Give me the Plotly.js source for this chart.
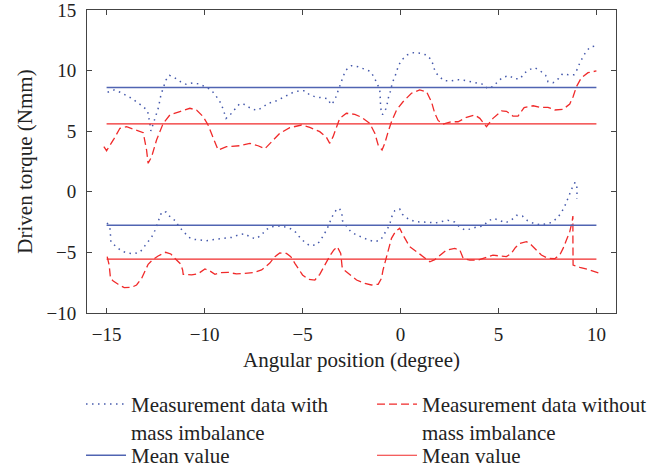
<!DOCTYPE html>
<html><head><meta charset="utf-8">
<script src="https://cdn.plot.ly/plotly-3.0.1.min.js"></script>
<style>html,body{margin:0;padding:0;background:#fff}#chart{width:671px;height:470px}</style>
</head><body><div id="chart"></div>
<script>
// Measurement data with mass imbalance (blue dotted), upper branch
const withUpperX = [-14.95,-14.61,-14.31,-14.02,-13.72,-13.44,-13.15,-12.91,-12.84,-12.79,-12.74,-12.57,-12.43,-12.33,-12.28,-12.19,-12.08,-11.97,-11.79,-11.52,-11.22,-10.94,-10.60,-10.26,-9.97,-9.66,-9.44,-9.23,-9.08,-8.90,-8.66,-8.45,-8.21,-7.91,-7.64,-7.32,-7.04,-6.76,-6.45,-6.14,-5.84,-5.51,-5.20,-4.88,-4.63,-4.32,-3.98,-3.69,-3.56,-3.37,-3.25,-3.15,-3.03,-2.91,-2.78,-2.50,-2.16,-1.84,-1.55,-1.36,-1.21,-1.06,-1.04,-1.04,-1.01,-0.92,-0.75,-0.66,-0.60,-0.49,-0.43,-0.29,-0.19,-0.09,0.10,0.36,0.68,1.00,1.33,1.55,1.68,1.77,1.99,2.22,2.57,2.91,3.24,3.59,3.89,4.23,4.45,4.78,4.98,5.26,5.56,5.80,6.12,6.28,6.56,6.85,7.14,7.41,7.53,7.79,8.06,8.27,8.57,8.86,9.03,9.15,9.32,9.49,9.71,10.03];
const withUpperY = [8.21,8.40,8.21,7.99,7.71,7.38,7.05,6.69,6.20,5.65,5.02,5.98,6.56,7.08,7.63,8.18,8.71,9.22,9.61,9.41,9.08,8.87,8.98,8.89,8.67,8.40,7.96,7.49,6.94,6.06,6.42,6.83,7.27,7.19,6.86,6.72,6.97,7.30,7.42,7.66,7.93,8.18,8.32,8.34,7.99,7.82,7.76,7.66,7.19,7.49,8.04,8.51,9.06,9.58,10.05,10.40,10.32,10.13,9.94,9.50,8.98,8.46,7.99,7.43,6.89,6.36,6.83,7.38,7.90,8.40,8.95,9.47,9.97,10.46,10.93,11.31,11.48,11.43,11.29,10.93,10.44,9.88,9.50,9.17,9.14,9.25,9.20,9.08,8.95,8.87,8.51,8.73,9.14,9.47,9.58,9.33,9.33,9.74,10.07,10.24,9.97,9.61,9.08,9.00,9.33,9.74,9.66,9.66,10.13,10.63,11.15,11.62,11.97,12.05];
// Measurement data with mass imbalance, lower branch
const withLowerX = [-14.97,-14.83,-14.80,-14.78,-14.53,-14.26,-13.95,-13.61,-13.29,-13.10,-12.91,-12.70,-12.54,-12.43,-12.33,-12.19,-11.96,-11.72,-11.46,-11.31,-11.07,-10.84,-10.56,-10.24,-9.90,-9.58,-9.26,-8.91,-8.59,-8.25,-7.94,-7.65,-7.37,-7.09,-6.87,-6.58,-6.24,-5.94,-5.61,-5.36,-5.14,-4.90,-4.63,-4.27,-4.07,-3.90,-3.74,-3.61,-3.47,-3.28,-3.11,-2.99,-2.96,-2.76,-2.54,-2.24,-1.94,-1.63,-1.31,-1.01,-0.84,-0.66,-0.53,-0.43,-0.29,-0.04,0.10,0.42,0.77,1.10,1.45,1.79,2.09,2.41,2.76,2.99,3.28,3.59,3.89,4.23,4.47,4.76,5.07,5.37,5.68,5.92,6.22,6.48,6.79,7.11,7.45,7.73,8.01,8.21,8.38,8.50,8.64,8.76,8.91,9.00,9.01,9.00];
const withLowerY = [-2.56,-3.05,-3.59,-4.14,-4.50,-4.86,-5.05,-5.11,-4.97,-4.55,-4.17,-3.73,-3.21,-2.68,-2.22,-1.67,-1.67,-2.14,-2.41,-2.90,-3.26,-3.73,-3.92,-4.00,-4.03,-3.95,-3.87,-3.84,-3.76,-3.54,-3.46,-3.76,-3.87,-3.56,-3.13,-2.88,-2.82,-2.88,-3.05,-3.32,-3.76,-4.14,-4.45,-4.37,-3.98,-3.51,-3.05,-2.52,-2.00,-1.50,-1.36,-1.83,-2.38,-2.82,-3.29,-3.56,-3.78,-3.98,-4.11,-3.98,-3.51,-3.05,-2.56,-2.00,-1.56,-1.42,-1.86,-2.27,-2.47,-2.47,-2.52,-2.57,-2.49,-2.35,-2.49,-2.85,-3.15,-3.07,-2.90,-2.82,-2.41,-2.19,-2.38,-2.55,-2.30,-1.94,-2.00,-2.38,-2.60,-2.71,-2.65,-2.52,-2.14,-1.72,-1.20,-0.68,-0.21,0.31,0.78,0.50,-0.08,-0.59];
// Measurement data without mass imbalance (red dashed), upper branch
const withoutUpperX = [-15.14,-15.00,-14.61,-14.32,-13.98,-13.47,-13.13,-12.96,-12.88,-12.70,-12.45,-12.11,-11.77,-11.26,-10.75,-10.41,-10.07,-9.82,-9.56,-9.31,-8.88,-8.20,-7.69,-7.27,-6.92,-6.58,-6.16,-5.65,-5.05,-4.63,-4.12,-3.78,-3.61,-3.44,-3.27,-3.10,-2.76,-2.33,-1.99,-1.57,-1.31,-1.14,-0.94,-0.80,-0.63,-0.46,-0.20,0.13,0.56,0.98,1.33,1.58,1.75,1.92,2.17,2.60,2.94,3.37,3.79,4.05,4.39,4.72,5.15,5.41,5.74,6.00,6.31,6.77,7.11,7.53,7.87,8.30,8.64,8.81,8.98,9.23,9.57,10.00];
const withoutUpperY = [3.72,3.39,4.41,5.24,5.37,5.10,4.88,3.45,2.35,2.90,4.27,5.65,6.34,6.61,6.89,6.75,6.20,5.51,4.41,3.45,3.72,3.80,4.00,3.80,3.55,4.13,4.83,5.29,5.51,5.32,4.96,4.50,4.00,4.55,5.37,6.06,6.48,6.39,6.15,5.65,4.83,3.86,3.45,4.00,4.96,5.78,6.75,7.43,8.13,8.40,8.26,7.43,6.48,5.89,5.59,5.78,5.78,6.15,6.34,6.06,5.37,6.06,6.67,6.64,6.25,6.25,6.94,7.10,6.97,6.97,6.75,6.81,7.24,7.85,8.67,9.41,9.83,9.97];
// Measurement data without mass imbalance, lower branch
const withoutLowerX = [-14.97,-14.87,-14.80,-14.66,-14.41,-14.10,-13.72,-13.47,-13.21,-13.05,-12.88,-12.62,-12.37,-11.99,-11.72,-11.43,-11.22,-11.12,-11.09,-10.66,-10.33,-9.98,-9.73,-9.47,-9.17,-8.80,-8.37,-7.94,-7.52,-7.09,-6.84,-6.67,-6.41,-6.16,-5.82,-5.60,-5.39,-5.22,-5.00,-4.71,-4.37,-4.12,-3.95,-3.78,-3.61,-3.40,-3.23,-3.05,-2.98,-2.88,-2.59,-2.24,-1.82,-1.48,-1.14,-0.97,-0.89,-0.76,-0.63,-0.46,-0.26,-0.04,0.13,0.31,0.47,0.82,1.15,1.50,1.75,2.01,2.35,2.77,3.03,3.20,3.54,3.96,4.30,4.72,5.07,5.41,5.66,5.87,6.09,6.43,6.68,6.94,7.19,7.53,7.87,8.13,8.30,8.47,8.64,8.76,8.80,8.80,8.80,8.81,9.15,9.66,10.26];
const withoutLowerY = [-5.35,-6.04,-7.14,-7.36,-7.63,-7.91,-7.88,-7.69,-7.14,-6.53,-5.98,-5.57,-5.30,-4.99,-5.13,-5.63,-5.96,-6.45,-6.81,-6.86,-6.76,-6.37,-6.53,-6.81,-6.67,-6.64,-6.78,-6.73,-6.67,-6.45,-6.12,-5.88,-5.35,-5.05,-5.08,-5.35,-5.90,-6.37,-6.86,-7.22,-7.28,-6.81,-6.31,-5.77,-5.30,-4.80,-4.53,-5.08,-6.18,-6.45,-6.86,-7.28,-7.55,-7.69,-7.63,-7.14,-6.45,-5.63,-4.67,-3.84,-3.29,-3.01,-3.56,-4.11,-4.53,-4.94,-5.35,-5.77,-5.60,-5.22,-4.80,-4.67,-4.80,-5.49,-5.63,-5.63,-5.43,-5.22,-5.30,-5.35,-5.08,-4.59,-4.25,-4.11,-4.39,-4.80,-5.22,-5.49,-5.52,-5.22,-4.67,-3.98,-3.29,-2.47,-2.00,-3.70,-5.08,-6.04,-6.23,-6.45,-6.78];
// Mean values [upper, lower] and the angular span they cover
const withMean = [8.6, -2.75];
const withoutMean = [5.6, -5.55];
const meanSpan = [-15, 10];
const xTicks = [-15, -10, -5, 0, 5, 10];
const yTicks = [15, 10, 5, 0, -5, -10];
const names = ['Measurement data with<br>mass imbalance', 'Measurement data without<br>mass imbalance', 'Mean value', 'Mean value'];

const BLUE = '#4458ab', BLUEM = '#5064b2', RED = '#f02a2a';
const FONT = "'Liberation Serif', 'Times New Roman', serif";
const dotLine = {color: BLUE, width: 1.5, dash: '1.5px,4.5px'};
const dashLine = {color: RED, width: 1.3, dash: '8px,4px'};

function meanXY(m) {
  return {x: [meanSpan[0], meanSpan[1], null, meanSpan[0], meanSpan[1]],
          y: [m[0], m[0], null, m[1], m[1]]};
}
const mw = meanXY(withMean), mwo = meanXY(withoutMean);

const traces = [
  {x: withUpperX, y: withUpperY, mode: 'lines', line: dotLine, name: names[0], legend: 'legend', legendgroup: 'w'},
  {x: withLowerX, y: withLowerY, mode: 'lines', line: dotLine, name: names[0], legend: 'legend', legendgroup: 'w', showlegend: false},
  {x: withoutUpperX, y: withoutUpperY, mode: 'lines', line: dashLine, name: names[1], legend: 'legend2', legendgroup: 'wo'},
  {x: withoutLowerX, y: withoutLowerY, mode: 'lines', line: dashLine, name: names[1], legend: 'legend2', legendgroup: 'wo', showlegend: false},
  {x: mw.x, y: mw.y, mode: 'lines', line: {color: BLUEM, width: 1.5}, name: names[2], legend: 'legend3'},
  {x: mwo.x, y: mwo.y, mode: 'lines', line: {color: RED, width: 1.2}, name: names[3], legend: 'legend4'}
];

function leg(x, y) {
  return {xref: 'paper', yref: 'paper', x: x, y: y, xanchor: 'left', yanchor: 'top',
          bgcolor: 'rgba(0,0,0,0)', borderwidth: 0, font: {family: FONT, size: 21, color: '#222'},
          valign: 'top', itemwidth: 40, tracegroupgap: 0};
}

const axisCommon = {
  showline: true, linecolor: '#444', linewidth: 1, mirror: 'ticks',
  ticks: 'inside', ticklen: 5, tickwidth: 1, tickcolor: '#444',
  showgrid: false, zeroline: false, automargin: false, ticklabeloverflow: 'allow',
  tickfont: {family: FONT, size: 19, color: '#222'}
};

const layout = {
  width: 671, height: 470,
  margin: {l: 87, r: 55, t: 10, b: 157, autoexpand: false},
  paper_bgcolor: '#fff', plot_bgcolor: '#fff',
  showlegend: true,
  xaxis: Object.assign({}, axisCommon, {
    range: [-16, 11], tickvals: xTicks, ticklabelstandoff: 4,
    title: {text: 'Angular position (degree)', font: {family: FONT, size: 21, color: '#222'}, standoff: 8}
  }),
  yaxis: Object.assign({}, axisCommon, {
    range: [-10, 15], tickvals: yTicks, ticklabelstandoff: 6,
    title: {text: 'Driven torque (Nmm)', font: {family: FONT, size: 21, color: '#222'}, standoff: 8}
  }),
  legend: leg(-0.0113, -0.234),
  legend2: leg(0.5388, -0.234),
  legend3: leg(-0.0113, -0.403),
  legend4: leg(0.5388, -0.403)
};

Plotly.newPlot('chart', traces, layout, {displayModeBar: false, staticPlot: true});
</script></body></html>
